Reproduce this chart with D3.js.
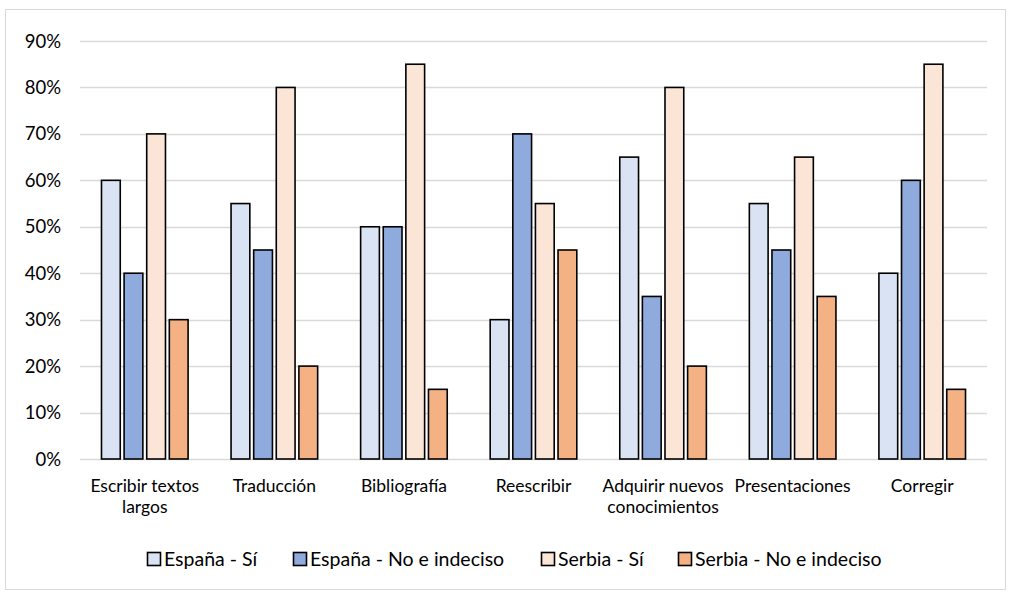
<!DOCTYPE html>
<html>
<head>
<meta charset="utf-8">
<script src="https://cdn.jsdelivr.net/npm/d3@7"></script>
<style>
  body { margin: 0; background: #fff; }
  text { font-family: Lato, "Open Sans", sans-serif; fill: #000; }
</style>
</head>
<body>
<svg width="1011" height="595"></svg>
<script>
// chart data
const categories = ["Escribir textos largos", "Traducción", "Bibliografía", "Reescribir",
    "Adquirir nuevos conocimientos", "Presentaciones", "Corregir"];
const catLines = [["Escribir textos", "largos"], ["Traducción"], ["Bibliografía"], ["Reescribir"],
    ["Adquirir nuevos", "conocimientos"], ["Presentaciones"], ["Corregir"]];
const seriesNames = ["España - Sí", "España - No e indeciso", "Serbia - Sí", "Serbia - No e indeciso"];
const espanaSi = [60, 55, 50, 30, 65, 55, 40];
const espanaNo = [40, 45, 50, 70, 35, 45, 60];
const serbiaSi = [70, 80, 85, 55, 80, 65, 85];
const serbiaNo = [30, 20, 15, 45, 20, 35, 15];
const yTicks = [0, 10, 20, 30, 40, 50, 60, 70, 80, 90];

const colors = ["#dae3f3", "#8faadc", "#fbe5d6", "#f4b183"];
const series = [espanaSi, espanaNo, serbiaSi, serbiaNo];

const svg = d3.select("svg");

// outer frame
svg.append("rect")
    .attr("x", 5.5).attr("y", 9.5)
    .attr("width", 1000).attr("height", 580)
    .attr("fill", "none")
    .attr("stroke", "#d9d9d9");

const x = d3.scaleBand().domain(categories).range([80, 987]).paddingInner(0).paddingOuter(0);
const xs = d3.scaleBand().domain(d3.range(4)).range([0, x.bandwidth()]).paddingInner(0.17).paddingOuter(0.95);
const y = d3.scaleLinear().domain([0, 90]).range([459, 41]);

// gridlines
svg.append("g")
    .selectAll("line")
    .data(yTicks)
    .enter().append("line")
    .attr("x1", 80).attr("x2", 987)
    .attr("y1", d => Math.round(y(d)) + 0.5)
    .attr("y2", d => Math.round(y(d)) + 0.5)
    .attr("stroke", "#d9d9d9")
    .attr("stroke-width", 1.3);

// y labels
svg.append("g")
    .selectAll("text")
    .data(yTicks)
    .enter().append("text")
    .attr("x", 61)
    .attr("y", d => y(d))
    .attr("dy", 6.5)
    .attr("text-anchor", "end")
    .attr("font-size", 18.5)
    .text(d => d + "%");

// bars
series.forEach((vals, s) => {
    svg.append("g")
        .selectAll("rect")
        .data(vals)
        .enter().append("rect")
        .attr("x", (d, i) => x(categories[i]) + xs(s))
        .attr("y", d => y(d))
        .attr("width", xs.bandwidth())
        .attr("height", d => y(0) - y(d))
        .attr("fill", colors[s])
        .attr("stroke", "#000")
        .attr("stroke-width", 1.6);
});

// category labels
const cats = svg.append("g")
    .selectAll("text")
    .data(categories)
    .enter().append("text")
    .attr("x", d => x(d) + x.bandwidth() / 2)
    .attr("y", 492)
    .attr("text-anchor", "middle")
    .attr("font-size", 17.5);

cats.each(function(d, i) {
    d3.select(this).selectAll("tspan")
        .data(catLines[i])
        .enter().append("tspan")
        .attr("x", x(d) + x.bandwidth() / 2)
        .attr("dy", (t, j) => j === 0 ? 0 : 21)
        .text(t => t);
});

// legend
const legendX = [147, 293, 541, 678];
const legend = svg.append("g")
    .selectAll("g")
    .data(seriesNames)
    .enter().append("g")
    .attr("transform", (d, i) => `translate(${legendX[i]},559)`);

legend.append("rect")
    .attr("x", 0.5).attr("y", -6.5)
    .attr("width", 13).attr("height", 13)
    .attr("fill", (d, i) => colors[i])
    .attr("stroke", "#000")
    .attr("stroke-width", 1.6);

legend.append("text")
    .attr("x", 17)
    .attr("y", 0)
    .attr("dy", 7)
    .attr("font-size", 19.5)
    .text(d => d);
</script>
</body>
</html>
